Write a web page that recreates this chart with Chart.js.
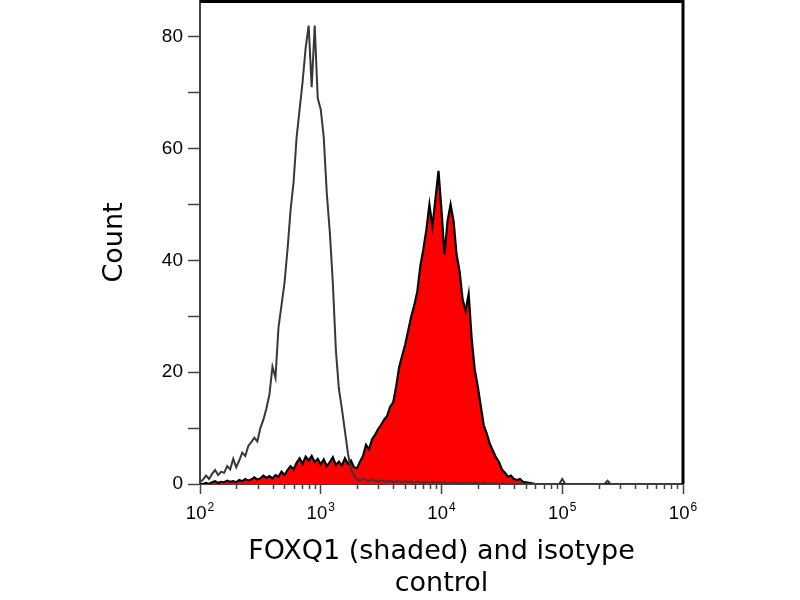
<!DOCTYPE html>
<html><head><meta charset="utf-8">
<script src="https://cdn.jsdelivr.net/npm/chart.js@4.4.1/dist/chart.umd.min.js"></script>
<style>html,body{margin:0;padding:0;background:#fff}</style>
</head><body>
<canvas id="c" width="800" height="600"></canvas>
<script>
// Histogram bins: mantissas within each decade, times decade start
const binMantissa = [1.000,1.059,1.122,1.189,1.259,1.334,1.413,1.496,1.585,1.679,
  1.778,1.884,1.995,2.113,2.239,2.371,2.512,2.661,2.818,2.985,
  3.162,3.350,3.548,3.758,3.981,4.217,4.467,4.732,5.012,5.309,
  5.623,5.957,6.310,6.683,7.079,7.499,7.943,8.414,8.913,9.441];
const decades = [100, 1000, 10000, 100000];
const lastBin = 1000000;

// Isotype control (unshaded outline)
const isotypeCounts = [
  0.3,0.8,1.5,0.9,1.8,2.5,1.6,2.2,2.0,3.2,
  2.6,4.5,3.0,4.2,5.6,5.0,6.8,7.5,8.3,7.6,
  10,11.5,13.5,16,21,19,28,32,36,42,
  49,54,62,67,72,78,82,71,82,69,
  67,62,52,45,36,24,17,13.5,9.5,5.5,
  2.5,1.5,0.8,0.6,1.0,0.7,0.5,0.8,0.6,0.4,
  0.7,0.5,0.4,0.6,0.3,0.5,0.4,0.3,0.5,0.3,
  0.4,0.2,0.4,0.3,0.2,0.4,0.2,0.3,0.2,0.3,
  0.2,0.3,0.1,0.2,0.3,0.1,0.2,0.1,0.2,0.1,
  0.1,0.2,0.1,0.1,0.2,0.1,0,0.1,0.1,0,
  0.1,0,0,0.1,0,0,0,0.1,0,0,
  0,0,0,0,0,0,0,0,0,0,
  0.9,0,0,0,0,0,0,0,0,0,
  0,0,0,0,0,0.6,0,0,0,0,
  0,0,0,0,0,0,0,0,0,0,
  0,0,0,0,0,0,0,0,0,0,
  0
];

// FOXQ1 (shaded)
const foxq1Counts = [
  0,0,0.2,0,0.3,0.5,0.2,0.4,0.3,0.6,
  0.4,0.5,0.3,0.7,0.5,0.9,0.6,0.8,1.2,0.8,
  1.0,1.5,1.1,1.4,1.0,1.6,1.3,2.2,1.6,2.5,
  3.2,2.6,3.8,4.6,3.6,4.9,4.2,5.0,3.9,4.5,
  3.5,4.4,3.2,3.9,4.8,3.4,4.0,3.3,4.6,3.6,
  4.2,3.0,2.8,4.0,5.0,7.0,6.2,8.0,8.8,9.8,
  10.6,11.5,12.2,13.8,14.6,17.5,21,23,25,27.5,
  30,32,34.5,39,42,45.5,50,46,51,56,
  49,41,47,50,47,41,38,33,31,34,
  26,20.5,17.5,14,10.5,9,7.2,6,4.8,4.0,
  2.6,2.0,1.3,1.5,0.9,0.7,0.9,0.4,0.3,0.2,
  0.1,0,0,0,0,0,0,0,0,0,
  0,0,0,0,0,0,0,0,0,0,
  0,0,0,0,0,0,0,0,0,0,
  0,0,0,0,0,0,0,0,0,0,
  0,0,0,0,0,0,0,0,0,0,
  0
];

const xTickValues = [100,200,300,400,500,600,700,800,900,
  1000,2000,3000,4000,5000,6000,7000,8000,9000,
  10000,20000,30000,40000,50000,60000,70000,80000,90000,
  100000,200000,300000,400000,500000,600000,700000,800000,900000,
  1000000];
const xDecadeBase = '10';
const xDecadeExponent = {100:'2',1000:'3',10000:'4',100000:'5',1000000:'6'};
const yTickValues = [0,10,20,30,40,50,60,70,80];
const yLabelValues = [0,20,40,60,80];

const bins = decades.flatMap(d => binMantissa.map(m => d * m)).concat([lastBin]);
const isoData = bins.map((x, i) => ({x: x, y: isotypeCounts[i]}));
const foxData = bins.map((x, i) => ({x: x, y: foxq1Counts[i]}));

const framePlugin = {
  id: 'frame',
  afterDraw(chart) {
    const {ctx, chartArea: a, scales: {x}} = chart;
    ctx.save();
    ctx.strokeStyle = '#000';
    ctx.lineWidth = 3;
    ctx.beginPath();
    ctx.moveTo(a.left, a.top + 0.5);
    ctx.lineTo(a.right, a.top + 0.5);
    ctx.lineTo(a.right, a.bottom);
    ctx.stroke();
    ctx.strokeStyle = '#444';
    ctx.lineWidth = 1.5;
    x.ticks.forEach(t => {
      if (!xDecadeExponent[t.value]) {
        const px = Math.round(x.getPixelForValue(t.value)) + 0.5;
        ctx.beginPath();
        ctx.moveTo(px, a.bottom);
        ctx.lineTo(px, a.bottom + 5);
        ctx.stroke();
      }
    });
    // decade labels with superscript exponent
    ctx.fillStyle = '#000';
    ctx.textBaseline = 'alphabetic';
    ctx.textAlign = 'left';
    const baseFont = '18.5px "Liberation Sans"';
    const expFont = '12px "Liberation Sans"';
    x.ticks.forEach(t => {
      const e = xDecadeExponent[t.value];
      if (!e) return;
      const px = x.getPixelForValue(t.value);
      ctx.font = baseFont;
      const wb = ctx.measureText(xDecadeBase).width;
      ctx.font = expFont;
      const we = ctx.measureText(e).width;
      const start = px - (wb + we + 1) / 2;
      ctx.font = baseFont;
      ctx.fillText(xDecadeBase, start, a.bottom + 35);
      ctx.font = expFont;
      ctx.fillText(e, start + wb + 1, a.bottom + 27);
    });
    ctx.restore();
  }
};

new Chart(document.getElementById('c'), {
  type: 'line',
  data: {
    datasets: [
      {label: 'Isotype control', data: isoData, order: 0, borderColor: '#383838', borderWidth: 2, fill: false, pointRadius: 0, tension: 0},
      {label: 'FOXQ1', data: foxData, order: 1, borderColor: '#000', borderWidth: 2.2, backgroundColor: '#ff0000', fill: 'origin', pointRadius: 0, tension: 0}
    ]
  },
  options: {
    responsive: false,
    animation: false,
    devicePixelRatio: 1,
    layout: {padding: {top: 1, right: 117, left: 0, bottom: 0}},
    plugins: {legend: {display: false}, tooltip: {enabled: false}},
    scales: {
      x: {
        type: 'logarithmic', min: 100, max: 1000000,
        afterBuildTicks: s => { s.ticks = xTickValues.map(v => ({value: v, major: !!xDecadeExponent[v]})); },
        afterFit: s => { s.height = 116; s.paddingLeft = 0; s.paddingRight = 0; },
        ticks: {autoSkip: false, maxRotation: 0, padding: 7, color: '#000',
          font: {family: 'Liberation Sans', size: 19},
          callback: () => ''},
        grid: {display: true, drawOnChartArea: false, drawTicks: true, tickLength: 10, tickWidth: 1.5,
          tickColor: c => (c.tick && xDecadeExponent[c.tick.value]) ? '#444' : 'rgba(0,0,0,0)'},
        border: {display: true, color: '#444', width: 2},
        title: {display: true, text: ['FOXQ1 (shaded) and isotype', 'control'], color: '#000',
          font: {family: 'DejaVu Sans', size: 27, lineHeight: 1.185}, padding: {top: 0, bottom: 0}}
      },
      y: {
        min: 0, max: 86.4,
        afterBuildTicks: s => { s.ticks = yTickValues.map(v => ({value: v})); },
        afterFit: s => { s.width = 200; s.paddingTop = 0; s.paddingBottom = 0; },
        ticks: {padding: 5, color: '#000', font: {family: 'Liberation Sans', size: 19},
          callback: v => yLabelValues.includes(v) ? String(v) : ''},
        grid: {drawOnChartArea: false, drawTicks: true, tickLength: 12, tickWidth: 1.5, tickColor: '#444'},
        border: {display: true, color: '#444', width: 2},
        title: {display: true, text: 'Count', color: '#000',
          font: {family: 'DejaVu Sans', size: 27, lineHeight: 1.185}, padding: {top: 99, bottom: 0}}
      }
    }
  },
  plugins: [framePlugin]
});
</script>
</body></html>
